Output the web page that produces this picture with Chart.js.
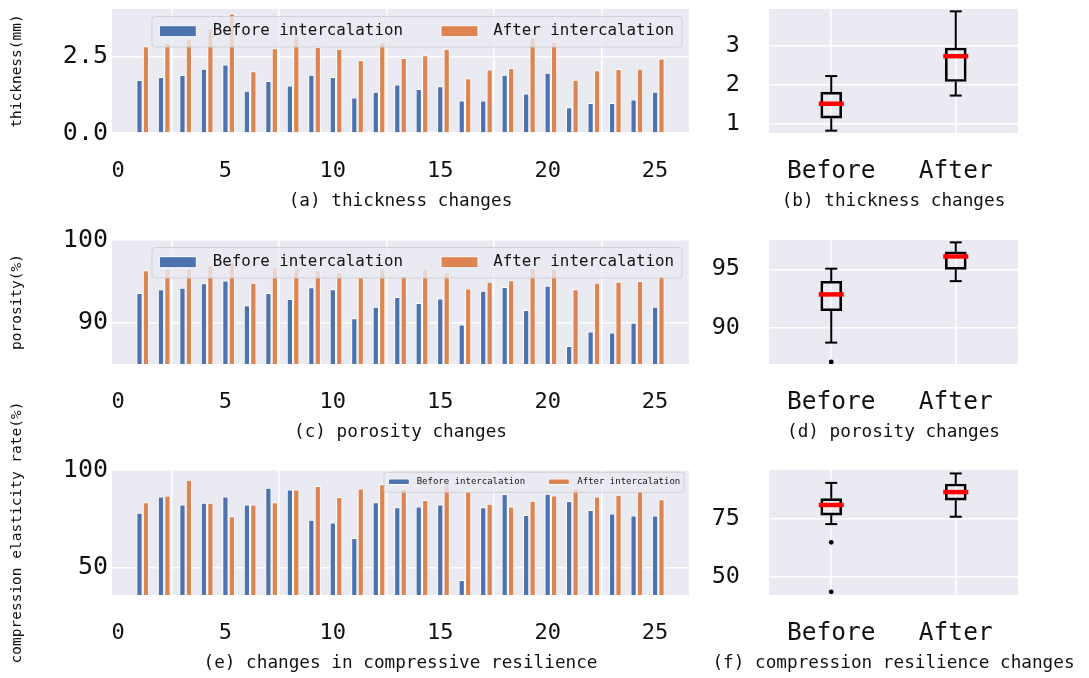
<!DOCTYPE html>
<html>
<head>
<meta charset="utf-8">
<script src="https://cdn.jsdelivr.net/npm/chart.js@4.4.1/dist/chart.umd.min.js"></script>
<style>
  html, body { margin: 0; padding: 0; background: #ffffff; }
  #fig { position: relative; width: 1089px; height: 678px; overflow: hidden; background: #ffffff; }
  #fig canvas { position: absolute; }
</style>
</head>
<body>
<div id="fig">
  <canvas id="thicknessBars" width="700" height="216" style="left:0px;top:0px"></canvas>
  <canvas id="porosityBars" width="700" height="297" style="left:0px;top:150px"></canvas>
  <canvas id="resilienceBars" width="700" height="298" style="left:0px;top:380px"></canvas>
  <canvas id="thicknessBox" width="389" height="216" style="left:700px;top:0px"></canvas>
  <canvas id="porosityBox" width="389" height="297" style="left:700px;top:150px"></canvas>
  <canvas id="resilienceBox" width="389" height="298" style="left:700px;top:380px"></canvas>
</div>
<script>
// ---- measured samples -------------------------------------------------------
const samples = [1, 2, 3, 4, 5, 6, 7, 8, 9, 10, 11, 12, 13, 14, 15, 16, 17, 18, 19, 20, 21, 22, 23, 24, 25];

// thickness (mm)
const thicknessBefore = [1.72, 1.82, 1.88, 2.09, 2.23, 1.37, 1.69, 1.54, 1.89, 1.82, 1.15, 1.34, 1.57,
                         1.43, 1.52, 1.05, 1.05, 1.89, 1.28, 1.96, 0.83, 0.97, 0.97, 1.08, 1.34];
const thicknessAfter  = [2.82, 2.93, 3.08, 3.42, 3.89, 2.01, 2.76, 3.17, 2.80, 2.74, 2.37, 2.95, 2.44,
                         2.53, 2.74, 1.78, 2.06, 2.11, 3.12, 2.96, 1.73, 2.04, 2.08, 2.09, 2.42];

// porosity (%)
const porosityBefore = [93.55, 93.99, 94.18, 94.74, 95.06, 92.07, 93.55, 92.83, 94.23, 93.99, 90.48, 91.88, 93.07,
                        92.35, 92.87, 89.73, 93.83, 94.27, 91.48, 94.42, 87.13, 88.89, 88.77, 89.96, 91.88];
const porosityAfter  = [96.3, 96.5, 96.5, 96.9, 97.3, 94.8, 96.7, 96.6, 96.3, 96.1, 95.5, 96.5, 95.7,
                        96.5, 96.1, 94.1, 94.9, 95.1, 96.6, 96.5, 94.0, 94.8, 94.9, 95.0, 95.6];

// compression elasticity rate (%)
const resilienceBefore = [78.0, 86.3, 82.2, 83.0, 86.3, 82.2, 90.8, 89.8, 74.4, 72.9, 65.0, 83.3, 80.7,
                          81.2, 82.2, 43.5, 80.7, 87.6, 76.8, 87.7, 84.0, 79.4, 77.6, 76.5, 76.5];
const resilienceAfter  = [83.3, 86.8, 94.9, 83.0, 76.1, 82.2, 83.3, 89.8, 91.7, 86.0, 90.4, 92.5, 90.3,
                          84.5, 92.5, 88.9, 82.6, 81.2, 84.1, 86.8, 90.3, 86.3, 87.2, 88.9, 84.8];

const seriesLabels = ['Before intercalation', 'After intercalation'];
const boxLabels = ['Before', 'After'];

// tick values
const sampleTicks = [0, 5, 10, 15, 20, 25];
const thicknessTicks = [0, 2.5];
const porosityTicks = [90, 100];
const resilienceTicks = [50, 100];
const thicknessBoxTicks = [1, 2, 3];
const porosityBoxTicks = [90, 95];
const resilienceBoxTicks = [50, 75];

// ---- style ------------------------------------------------------------------
const BLUE = '#4C72B0';
const ORANGE = '#DD8452';
const PANEL_BG = '#EAEAF2';
const TEXT = '#111111';
const MONO = "'DejaVu Sans Mono', 'Liberation Mono', monospace";
const AFTER_SHIFT = 0.3;   // the "after" bar sits 0.3 to the right of its sample
const CAPTION_SIZE = 17.7;
const CAPTION_PAD = { top: 0, bottom: 4.3 };
const AXIS_BOX = 83;       // height of the x-axis band under each panel

// axes background
const panelBackground = {
  id: 'panelBackground',
  beforeDraw(chart) {
    const { ctx, chartArea: a } = chart;
    ctx.save();
    ctx.fillStyle = PANEL_BG;
    ctx.fillRect(a.left, a.top, a.right - a.left, a.bottom - a.top);
    ctx.restore();
  }
};

// caption centred under the axes, free to run wider than the panel
const panelCaption = {
  id: 'panelCaption',
  afterDraw(chart, args, o) {
    if (!o || !o.text) return;
    const { ctx, chartArea: a } = chart;
    const lineHeight = CAPTION_SIZE * 1.2;
    ctx.save();
    ctx.font = CAPTION_SIZE + 'px ' + MONO;
    ctx.fillStyle = TEXT;
    ctx.textAlign = 'center';
    ctx.textBaseline = 'middle';
    ctx.fillText(o.text, (a.left + a.right) / 2,
                 a.bottom + AXIS_BOX - CAPTION_PAD.bottom - lineHeight / 2);
    ctx.restore();
  }
};

// framed legend drawn inside the axes, on top of the bars
const framedLegend = {
  id: 'framedLegend',
  afterDatasetsDraw(chart, args, o) {
    if (!o || !o.show) return;
    const { ctx, chartArea: a } = chart;
    const bx = a.left + o.dx, by = a.top + o.dy;
    ctx.save();
    ctx.beginPath();
    ctx.roundRect(bx, by, o.w, o.h, o.r);
    ctx.fillStyle = 'rgba(234,234,242,0.8)';
    ctx.fill();
    ctx.lineWidth = 1;
    ctx.strokeStyle = 'rgba(204,204,204,0.8)';
    ctx.stroke();
    ctx.font = o.fontSize + 'px ' + MONO;
    ctx.textBaseline = 'middle';
    ctx.textAlign = 'left';
    chart.data.datasets.forEach((ds, i) => {
      const px = a.left + o.patchX[i];
      const py = a.top + o.patchY - o.patchH / 2;
      ctx.fillStyle = ds.backgroundColor;
      ctx.fillRect(px, py, o.patchW, o.patchH);
      ctx.strokeStyle = '#ffffff';
      ctx.lineWidth = 1;
      ctx.strokeRect(px, py, o.patchW, o.patchH);
      ctx.fillStyle = TEXT;
      ctx.fillText(ds.label, a.left + o.textX[i], a.top + o.textY);
    });
    ctx.restore();
  }
};

// whiskers, caps and medians of the box plots
const boxWhiskers = {
  id: 'boxWhiskers',
  afterDatasetsDraw(chart, args, o) {
    if (!o || !o.stats) return;
    const { ctx, scales: { x, y } } = chart;
    const line = (x1, y1, x2, y2) => { ctx.beginPath(); ctx.moveTo(x1, y1); ctx.lineTo(x2, y2); ctx.stroke(); };
    ctx.save();
    o.stats.forEach((s, i) => {
      const cx = x.getPixelForValue(i);
      ctx.strokeStyle = '#000000';
      ctx.lineWidth = 2;
      line(cx, y.getPixelForValue(s.q1), cx, y.getPixelForValue(s.lo));
      line(cx, y.getPixelForValue(s.q3), cx, y.getPixelForValue(s.hi));
      line(cx - 6, y.getPixelForValue(s.lo), cx + 6, y.getPixelForValue(s.lo));
      line(cx - 6, y.getPixelForValue(s.hi), cx + 6, y.getPixelForValue(s.hi));
      ctx.strokeStyle = '#ff0000';
      ctx.lineWidth = 4.5;
      line(cx - 12.5, y.getPixelForValue(s.med), cx + 12.5, y.getPixelForValue(s.med));
    });
    ctx.restore();
  }
};

// five-number summary with 1.5*IQR whiskers (linear-interpolated quartiles)
function boxStats(values) {
  const s = [...values].sort((a, b) => a - b);
  const q = p => {
    const pos = p * (s.length - 1), lo = Math.floor(pos), hi = Math.ceil(pos);
    return s[lo] + (s[hi] - s[lo]) * (pos - lo);
  };
  const q1 = q(0.25), med = q(0.5), q3 = q(0.75), iqr = q3 - q1;
  const lowFence = q1 - 1.5 * iqr, highFence = q3 + 1.5 * iqr;
  const inside = s.filter(v => v >= lowFence && v <= highFence);
  return { q1, med, q3, lo: inside[0], hi: inside[inside.length - 1],
           out: s.filter(v => v < lowFence || v > highFence) };
}

const gridStyle = { color: '#ffffff', lineWidth: 1.6, drawTicks: false };

// fixed axis boxes: no extra room reserved for overhanging tick labels
function fixSize(prop, size) {
  return s => {
    s[prop] = size;
    s.paddingTop = 0; s.paddingBottom = 0; s.paddingLeft = 0; s.paddingRight = 0;
  };
}

function barPanel(id, before, after, cfg) {
  new Chart(document.getElementById(id), {
    type: 'bar',
    data: {
      datasets: [
        { label: seriesLabels[0], data: samples.map((s, i) => ({ x: s, y: before[i] })),
          backgroundColor: BLUE },
        { label: seriesLabels[1], data: samples.map((s, i) => ({ x: s + AFTER_SHIFT, y: after[i] })),
          backgroundColor: ORANGE }
      ]
    },
    options: {
      responsive: false,
      animation: false,
      devicePixelRatio: 1,
      grouped: false,
      barThickness: 5.6,
      borderColor: '#ffffff',
      borderWidth: 1,
      borderSkipped: 'start',
      layout: { padding: { top: cfg.padTop, right: 11, bottom: 0, left: 0 } },
      scales: {
        x: {
          type: 'linear', min: -0.28, max: 26.58, offset: false,
          afterBuildTicks: s => { s.ticks = sampleTicks.map(v => ({ value: v })); },
          afterFit: fixSize('height', AXIS_BOX),
          ticks: { autoSkip: false, maxRotation: 0, padding: 25.5, color: TEXT,
                   font: { family: MONO, size: 22 } },
          grid: gridStyle,
          border: { display: false }
        },
        y: {
          min: cfg.yMin, max: cfg.yMax,
          afterBuildTicks: s => { s.ticks = cfg.yTicks.map(v => ({ value: v })); },
          afterFit: fixSize('width', 112),
          ticks: { padding: 4, color: TEXT, font: { family: MONO, size: 25 },
                   callback: cfg.yFormat },
          grid: gridStyle,
          border: { display: false },
          title: { display: true, text: cfg.yTitle, color: TEXT,
                   font: { family: MONO, size: 14.5 }, padding: { top: 8.3, bottom: 0 } }
        }
      },
      plugins: {
        legend: { display: false },
        tooltip: { enabled: false },
        framedLegend: cfg.legend,
        panelCaption: { text: cfg.caption }
      }
    },
    plugins: [panelBackground, framedLegend, panelCaption]
  });
}

function boxPanel(id, before, after, cfg) {
  const stats = [boxStats(before), boxStats(after)];
  new Chart(document.getElementById(id), {
    type: 'bar',
    data: {
      labels: boxLabels,
      datasets: [
        { type: 'bar', label: 'IQR', data: stats.map(s => [s.q1, s.q3]),
          backgroundColor: 'rgba(0,0,0,0)', borderColor: '#000000', borderWidth: 2,
          borderSkipped: false, barThickness: 21 },
        { type: 'scatter', label: 'outliers',
          data: stats.flatMap((s, i) => s.out.map(v => ({ x: boxLabels[i], y: v }))),
          pointRadius: 2.4, pointBackgroundColor: '#000000', pointBorderWidth: 0 }
      ]
    },
    options: {
      responsive: false,
      animation: false,
      devicePixelRatio: 1,
      layout: { padding: { top: cfg.padTop, right: 71, bottom: 0, left: 0 } },
      scales: {
        x: {
          type: 'category', offset: true,
          afterFit: fixSize('height', AXIS_BOX),
          ticks: { padding: 24.3, color: TEXT, font: { family: MONO, size: 24.5 } },
          grid: { ...gridStyle, offset: false },
          border: { display: false }
        },
        y: {
          min: cfg.yMin, max: cfg.yMax,
          afterBuildTicks: s => { s.ticks = cfg.yTicks.map(v => ({ value: v })); },
          afterFit: fixSize('width', 69),
          ticks: { padding: 29, color: TEXT, font: { family: MONO, size: 23.5 } },
          grid: gridStyle,
          border: { display: false }
        }
      },
      plugins: {
        legend: { display: false },
        tooltip: { enabled: false },
        boxWhiskers: { stats },
        panelCaption: { text: cfg.caption }
      }
    },
    plugins: [panelBackground, boxWhiskers, panelCaption]
  });
}

const bigLegend = { show: true, dx: 40, dy: 7.5, w: 530, h: 30.5, r: 3,
                    patchX: [47.3, 329], patchW: 37, patchY: 22.2, patchH: 11,
                    textX: [100.7, 381.3], textY: 22.2, fontSize: 15.8 };
const smallLegend = { show: true, dx: 272, dy: 2.3, w: 300, h: 20, r: 2.5,
                      patchX: [276.3, 436.3], patchW: 21, patchY: 11.7, patchH: 5.5,
                      textX: [304.7, 465.3], textY: 12, fontSize: 9 };

barPanel('thicknessBars', thicknessBefore, thicknessAfter, {
  padTop: 9, yMin: 0, yMax: 4.05, yTicks: thicknessTicks, yFormat: v => v.toFixed(1),
  yTitle: 'thickness(mm)', caption: '(a) thickness changes', legend: bigLegend });
barPanel('porosityBars', porosityBefore, porosityAfter, {
  padTop: 90, yMin: 85, yMax: 100, yTicks: porosityTicks, yFormat: v => String(v),
  yTitle: 'porosity(%)', caption: '(c) porosity changes', legend: bigLegend });
barPanel('resilienceBars', resilienceBefore, resilienceAfter, {
  padTop: 90, yMin: 36, yMax: 100, yTicks: resilienceTicks, yFormat: v => String(v),
  yTitle: 'compression elasticity rate(%)', caption: '(e) changes in compressive resilience',
  legend: smallLegend });

boxPanel('thicknessBox', thicknessBefore, thicknessAfter, {
  padTop: 9, yMin: 0.77, yMax: 3.95, yTicks: thicknessBoxTicks, caption: '(b) thickness changes' });
boxPanel('porosityBox', porosityBefore, porosityAfter, {
  padTop: 90, yMin: 86.95, yMax: 97.5, yTicks: porosityBoxTicks, caption: '(d) porosity changes' });
boxPanel('resilienceBox', resilienceBefore, resilienceAfter, {
  padTop: 90, yMin: 42.1, yMax: 96.4, yTicks: resilienceBoxTicks,
  caption: '(f) compression resilience changes' });
</script>
</body>
</html>
